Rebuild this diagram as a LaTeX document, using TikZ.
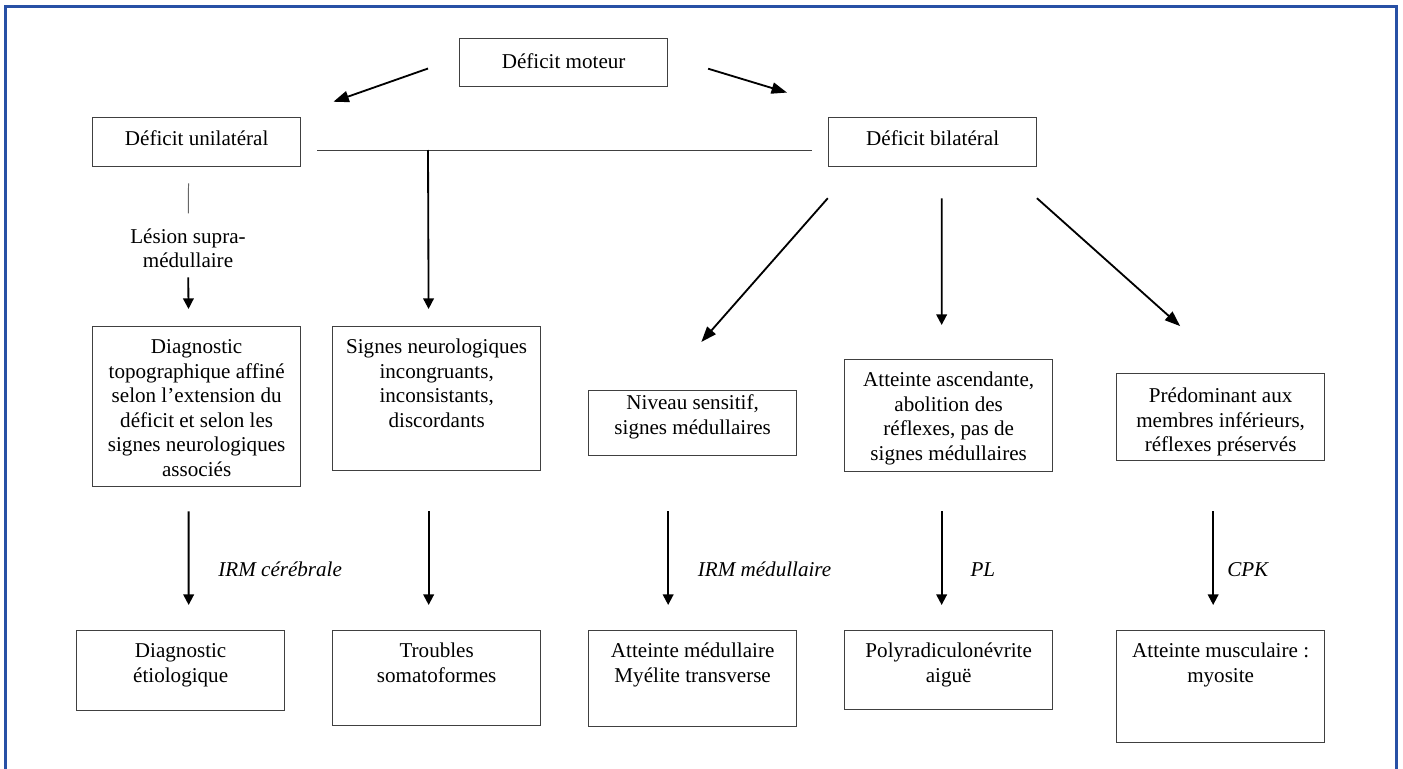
\documentclass[tikz,border=0pt]{standalone}
\usepackage{fontspec}
\setmainfont{Liberation Serif}
\usetikzlibrary{arrows.meta}
\definecolor{frameblue}{RGB}{40,80,165}
\newcommand{\boxtext}[3][0.25cm]{\parbox[c][#2][t]{5.1cm}{\centering\vspace*{#1}\strut #3}}
\tikzset{
  cellbox/.style={draw=black!75, line width=0.9pt, inner xsep=0.05cm, inner ysep=0pt, anchor=north west},
  flow/.style={-{Triangle[length=7.5pt,width=7.5pt]}, line width=1.3pt},
  slant/.style={-{Triangle[length=11pt,width=8pt]}, line width=1.3pt},
  link/.style={draw=black!75, line width=1pt},
  exam/.style={font=\fontsize{15}{17.4}\selectfont\itshape, inner sep=0pt, anchor=west},
}
\begin{document}
\begin{tikzpicture}[x=0.025cm, y=-0.025cm, font=\fontsize{15}{17.4}\selectfont]
\useasboundingbox (0,0) rectangle (1403,769);
\draw[frameblue, line width=2.2pt] (5.5,769) -- (5.5,6.5) -- (1396.5,6.5) -- (1396.5,769);

\node[cellbox] (moteur) at (459,38) {\boxtext[0.325cm]{1.2cm}{Déficit moteur}};
\node[cellbox] (unilat) at (92,117) {\boxtext[0.275cm]{1.225cm}{Déficit unilatéral}};
\node[cellbox] (bilat) at (828,117) {\boxtext[0.275cm]{1.225cm}{Déficit bilatéral}};
\node[align=center, inner sep=0pt] (lesion) at (188,248.5) {Lésion supra-\\médullaire};
\node[cellbox] (diagtopo) at (92,326) {\boxtext{4cm}{Diagnostic\\topographique affiné\\selon l’extension du\\déficit et selon les\\signes neurologiques\\associés}};
\node[cellbox] (signes) at (332,326) {\boxtext{3.6cm}{Signes neurologiques\\incongruants,\\inconsistants,\\discordants}};
\node[cellbox] (niveau) at (588,390) {\boxtext[0.05cm]{1.625cm}{Niveau sensitif,\\signes médullaires}};
\node[cellbox] (ascend) at (844,359) {\boxtext{2.8cm}{Atteinte ascendante,\\abolition des\\réflexes, pas de\\signes médullaires}};
\node[cellbox] (predom) at (1116,373) {\boxtext[0.3cm]{2.175cm}{Prédominant aux\\membres inférieurs,\\réflexes préservés}};
\node[cellbox] (etio) at (76,630) {\boxtext{2cm}{Diagnostic\\étiologique}};
\node[cellbox] (troubles) at (332,630) {\boxtext{2.375cm}{Troubles\\somatoformes}};
\node[cellbox] (medul) at (588,630) {\boxtext{2.4cm}{Atteinte médullaire\\Myélite transverse}};
\node[cellbox] (polyrad) at (844,630) {\boxtext{1.975cm}{Polyradiculonévrite\\aiguë}};
\node[cellbox] (muscul) at (1116,630) {\boxtext{2.8cm}{Atteinte musculaire :\\myosite}};

\draw[slant, shorten <=0.82cm, shorten >=0.85cm] ([yshift=0.125cm]moteur.west) -- ([yshift=0.1cm]unilat.north east);
\draw[slant, shorten <=1.04cm, shorten >=1.07cm] ([yshift=0.15cm]moteur.east) -- ([yshift=0.3cm]bilat.north west);
\draw[link, shorten <=0.4cm, shorten >=0.4cm] ([yshift=-0.21cm]unilat.east) -- ([yshift=-0.21cm]bilat.west);
\coordinate (junc) at (428,150);
\draw[flow, shorten >=0.425cm] (junc) -- ([xshift=-0.2cm]signes.north);
\draw[link, draw=black!60, line width=0.7pt, shorten <=0.4cm, shorten >=0.875cm] ([xshift=-0.2cm]unilat.south) -- (lesion.center);
\draw[flow, shorten <=0.72cm, shorten >=0.425cm] (lesion.center) -- ([xshift=-0.2cm]diagtopo.north);

\draw[slant, shorten <=1.03cm, shorten >=1.6cm] ([xshift=0.675cm]bilat.south west) -- ([xshift=-0.84cm]niveau.north);
\draw[flow, shorten <=0.775cm, shorten >=0.85cm] ([xshift=0.225cm]bilat.south) -- ([xshift=-0.175cm]ascend.north);
\draw[slant, shorten <=1.16cm, shorten >=1.76cm] ([xshift=-0.875cm]bilat.south east) -- ([xshift=0.3cm]predom.north);

\draw[flow, shorten <=0.6cm, shorten >=0.625cm] ([xshift=-0.2cm]diagtopo.south) -- ([xshift=0.2cm]etio.north)
  node[exam, pos=0.576, xshift=0.72cm] {IRM cérébrale};
\draw[flow, shorten <=1cm, shorten >=0.625cm] ([xshift=-0.2cm]signes.south) -- ([xshift=-0.2cm]troubles.north);
\draw[flow, shorten <=1.375cm, shorten >=0.625cm] ([xshift=-0.6125cm]niveau.south) -- ([xshift=-0.6125cm]medul.north)
  node[exam, pos=0.651, xshift=0.72cm] {IRM médullaire};
\draw[flow, shorten <=0.975cm, shorten >=0.625cm] ([xshift=-0.175cm]ascend.south) -- ([xshift=-0.175cm]polyrad.north)
  node[exam, pos=0.616, xshift=0.7cm] {PL};
\draw[flow, shorten <=1.25cm, shorten >=0.625cm] ([xshift=-0.1875cm]predom.south) -- ([xshift=-0.1875cm]muscul.north)
  node[exam, pos=0.641, xshift=0.33cm] {CPK};
\end{tikzpicture}
\end{document}
